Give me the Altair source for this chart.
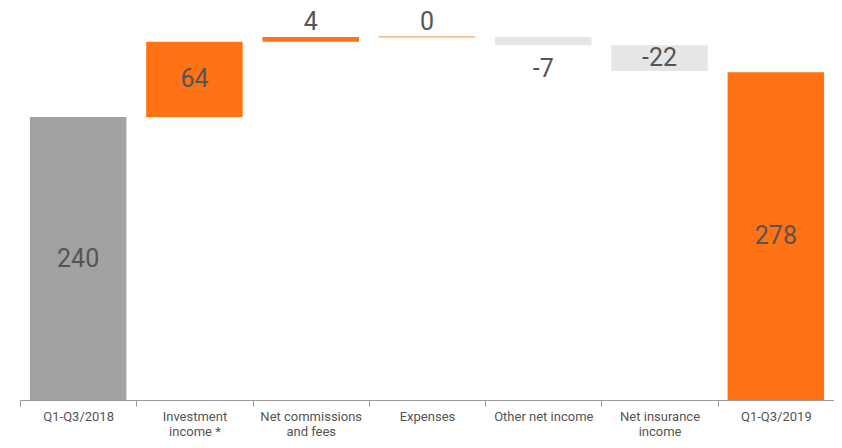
import altair as alt
import pandas as pd

categories = ["Q1-Q3/2018", "Investment|income *", "Net commissions|and fees",
              "Expenses", "Other net income", "Net insurance|income", "Q1-Q3/2019"]
values = [240, 64, 4, 0, -7, -22, 278]
kinds = ["start", "up", "up", "up", "down", "down", "end"]
labels = ["240", "64", "4", "0", "-7", "-22", "278"]
label_pos = ["mid", "mid", "above", "above", "below", "mid", "mid"]

fills = {"start": "#a2a2a2", "up": "#ff7316", "down": "#e6e6e6", "end": "#ff7316"}

rows = []
running = 0
for c, v, k, lab, lp in zip(categories, values, kinds, labels, label_pos):
    if k in ("start", "end"):
        lo, hi = 0, v
        running = v
    else:
        lo, hi = running, running + v
        running += v
    rows.append({
        "cat": c, "value": v, "y0": lo, "y1": hi,
        "top": max(lo, hi), "bottom": min(lo, hi), "mid": (lo + hi) / 2,
        "fill": fills[k], "label": lab, "pos": lp,
        "stroke": "#f9a36a" if v == 0 else "transparent",
    })
df = pd.DataFrame(rows)

x = alt.X("cat:N", sort=categories,
          scale=alt.Scale(paddingInner=0, paddingOuter=0),
          axis=alt.Axis(title=None, labelAngle=0, labelExpr="split(datum.label, '|')",
                        tickBand="extent", domainColor="#9a9a9a", tickColor="#9a9a9a",
                        tickSize=6, labelPadding=4, labelFontSize=13, labelColor="#555555",
                        labelFont="Roboto", labelLineHeight=15, labelBaseline="top"))
yscale = alt.Scale(domain=[0, 330], nice=False, zero=True)

base = alt.Chart(df)

bars = base.mark_bar(width=alt.RelativeBandSize(0.83), strokeWidth=1.2).encode(
    x=x,
    y=alt.Y("y0:Q", scale=yscale, axis=None),
    y2="y1:Q",
    fill=alt.Fill("fill:N", scale=None),
    stroke=alt.Stroke("stroke:N", scale=None),
)

tstyle = dict(font="Roboto", fontSize=25, color="#555555")

t_mid = base.mark_text(baseline="middle", **tstyle).encode(
    x=alt.X("cat:N", sort=categories), y=alt.Y("mid:Q", scale=yscale), text="label:N"
).transform_filter("datum.pos == 'mid'")
t_above = base.mark_text(baseline="bottom", dy=-2, **tstyle).encode(
    x=alt.X("cat:N", sort=categories), y=alt.Y("top:Q", scale=yscale), text="label:N"
).transform_filter("datum.pos == 'above'")
t_below = base.mark_text(baseline="top", dy=12, **tstyle).encode(
    x=alt.X("cat:N", sort=categories), y=alt.Y("bottom:Q", scale=yscale), text="label:N"
).transform_filter("datum.pos == 'below'")

chart = alt.layer(bars, t_mid, t_above, t_below).properties(
    width=814, height=389,
    padding={"left": 12, "top": 3, "right": 0, "bottom": 40},
    autosize=alt.AutoSizeParams(type="none"),
).configure_view(stroke=None)

chart.save("out.html", embed_options={"renderer": "svg", "actions": False})
